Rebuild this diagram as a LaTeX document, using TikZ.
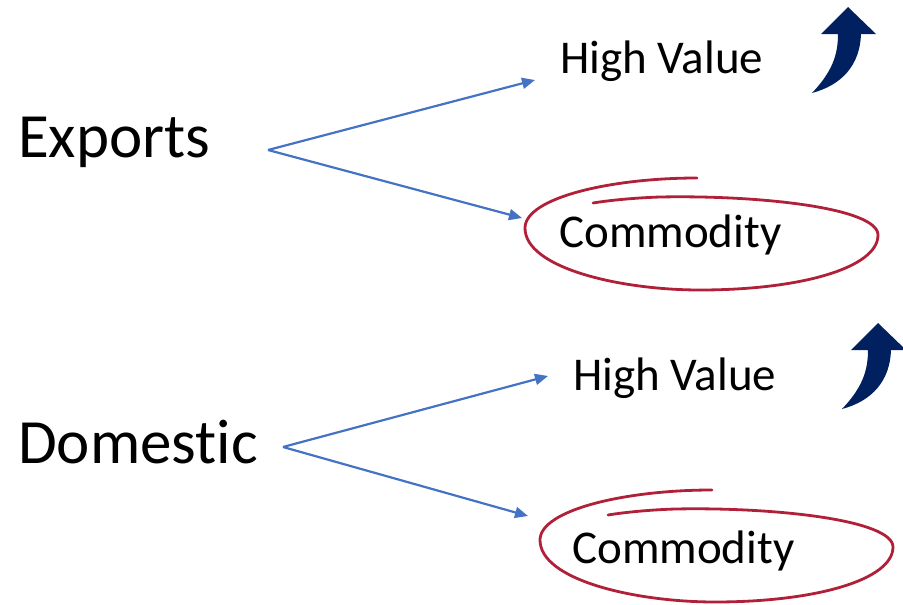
\documentclass[tikz,border=0pt]{standalone}
\usepackage{fontspec}
\setmainfont{Carlito}[Ligatures=NoCommon]
\usepackage{tikz}
\usetikzlibrary{arrows.meta}
\definecolor{arrowblue}{RGB}{68,114,196}
\definecolor{circlered}{RGB}{176,32,56}
\definecolor{upnavy}{RGB}{0,32,96}

\begin{document}
\begin{tikzpicture}[x=1pt,y=-1pt,
  big/.style={anchor=base west,inner sep=0pt,font=\fontsize{63}{70}\selectfont},
  small/.style={anchor=base west,inner sep=0pt,font=\fontsize{47}{52}\selectfont},
  branch/.style={arrowblue,line width=2.2pt,-{Triangle[length=13pt,width=11pt]}},
  swoosh/.style={circlered,line width=2.8pt,line cap=round},
  uparrow/.style={fill=upnavy,draw=none}]
\useasboundingbox (0,0) rectangle (903,605);
% left labels
\node[big] (exports) at (18,157) {Exports};
\node[big] (domestic) at (18,463) {Domestic};
% right labels
\node[small] (hvtop) at (560,73) {High Value};
\node[small] (comtop) at (559,247) {Commodity};
\node[small] (hvbot) at (573,390) {High Value};
\node[small] (combot) at (572,563) {Commodity};
% split points and arrow ends
\coordinate (exsplit) at (268,150);
\coordinate (dosplit) at (283,447);
\coordinate (hvtopend) at (535,80);
\coordinate (comtopend) at (522,218);
\coordinate (hvbotend) at (548,376);
\coordinate (combotend) at (528,516);
\draw[branch] (exsplit) -- (hvtopend);
\draw[branch] (exsplit) -- (comtopend);
\draw[branch] (dosplit) -- (hvbotend);
\draw[branch] (dosplit) -- (combotend);
% red loops round the commodity labels
\foreach \cx/\cy in {700/233, 715/545} {
\draw[swoosh,shift={(\cx,\cy)}] (-3,-55) .. controls (-90,-55) and (-175,-35) .. (-175,-5)
  .. controls (-175,35) and (-80,57) .. (0,57)
  .. controls (100,57) and (178,35) .. (178,2)
  .. controls (178,-25) and (60,-38) .. (-40,-36)
  .. controls (-70,-35) and (-95,-32) .. (-107,-30);
}
% up arrows beside the high value labels
\foreach \dx/\dy in {0/0, 30/316} {
\fill[uparrow,shift={(\dx,\dy)}] (848,7) -- (876,34) -- (861,34)
  .. controls (860,65) and (842,85) .. (812,93)
  .. controls (832,72) and (838,55) .. (838,34) -- (821,34) -- cycle;
}
\end{tikzpicture}
\end{document}
